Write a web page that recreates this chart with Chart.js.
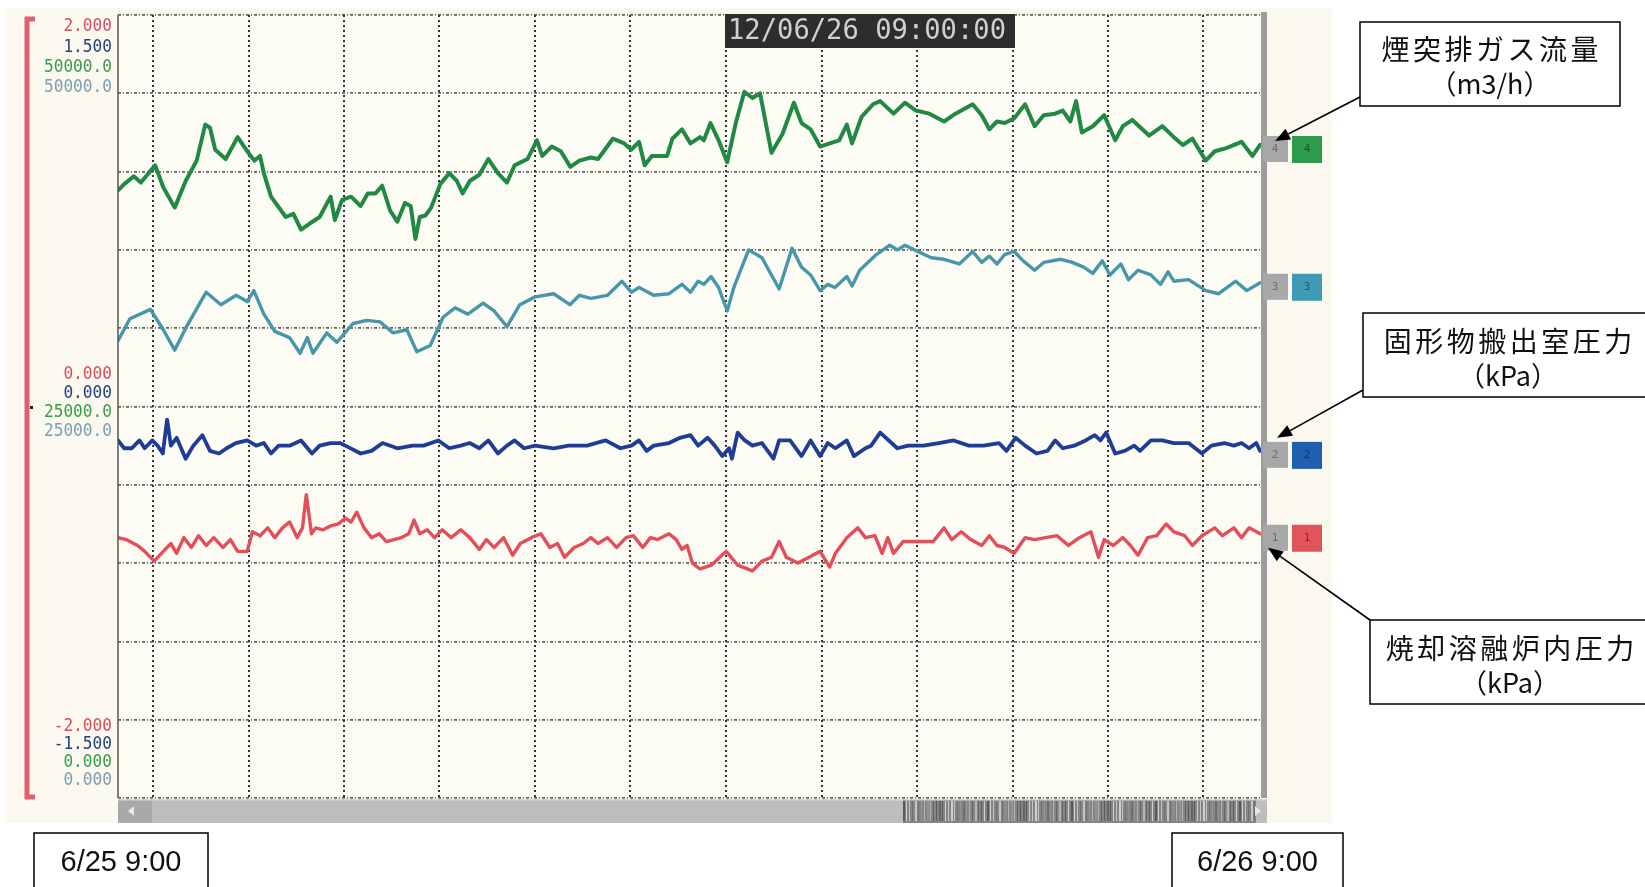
<!DOCTYPE html>
<html>
<head>
<meta charset="utf-8">
<script src="https://cdn.jsdelivr.net/npm/chart.js@4.4.1/dist/chart.umd.min.js"></script>
<style>
  html, body { margin: 0; padding: 0; background: #ffffff; }
  #wrap { width: 1645px; height: 887px; position: relative; overflow: hidden; }
  canvas { display: block; }
</style>
</head>
<body>
<div id="wrap"><canvas id="trend" width="1645" height="887"></canvas></div>
<script>
// Time axis: hours elapsed from 6/25 9:00 (0) to 6/26 9:00 (24)
const startLabel = '6/25 9:00';
const endLabel = '6/26 9:00';
const stampText = '12/06/26 09:00:00';
const gridHours = [0.73, 2.74, 4.74, 6.74, 8.75, 10.75, 12.76, 14.76, 16.76, 18.77, 20.77, 22.77];

// Scale labels per channel: [max, mid, min]
const redTicks = ['2.000', '0.000', '-2.000'];
const blueTicks = ['1.500', '0.000', '-1.500'];
const greenTicks = ['50000.0', '25000.0', '0.000'];
const tealTicks = ['50000.0', '25000.0', '0.000'];

// Callout captions
const greenCaption = ['煙突排ガス流量', '（m3/h）'];
const blueCaption = ['固形物搬出室圧力', '（kPa）'];
const redCaption = ['焼却溶融炉内圧力', '（kPa）'];

// Ch.4 煙突排ガス流量 (m3/h)
const greenHours = [0.00,0.13,0.33,0.48,0.64,0.78,0.95,1.19,1.42,1.65,1.83,1.93,2.04,2.26,2.51,2.71,2.86,2.98,3.06,3.21,3.52,3.68,3.84,4.03,4.23,4.46,4.55,4.70,4.89,5.09,5.24,5.40,5.54,5.71,5.86,6.02,6.14,6.24,6.33,6.45,6.57,6.76,6.95,7.11,7.23,7.38,7.58,7.77,7.97,8.16,8.32,8.59,8.79,8.90,9.10,9.29,9.49,9.68,9.92,10.07,10.19,10.38,10.62,10.77,10.93,11.05,11.20,11.52,11.63,11.83,12.01,12.21,12.29,12.43,12.60,12.78,12.96,13.14,13.31,13.47,13.71,13.94,14.18,14.34,14.53,14.73,14.93,15.13,15.29,15.40,15.60,15.84,15.99,16.27,16.51,16.74,17.02,17.33,17.57,17.93,18.12,18.28,18.44,18.60,18.80,19.03,19.23,19.42,19.66,19.82,19.98,20.10,20.22,20.45,20.69,20.92,21.08,21.28,21.63,21.91,22.15,22.34,22.54,22.82,23.01,23.25,23.57,23.80,23.96];
const greenValues = [38800,39200,39700,39300,39900,40400,39000,37700,39400,40700,43000,42800,41400,40800,42200,41300,40700,41000,39900,38400,37100,37300,36300,36700,37100,38400,36900,38200,38400,37800,38600,38600,39100,37500,36800,38000,37800,35700,37100,37200,37700,39200,39900,39400,38600,39400,39800,40800,39900,39300,40400,40800,42000,41000,41600,41300,40300,40700,40900,40800,41300,42100,41800,41400,41900,40400,41000,41000,42100,42700,41800,42200,42000,43100,42000,40600,43100,45100,44700,45000,41200,42400,44400,43100,42700,41600,41800,42000,43000,41800,43500,44300,44500,43700,44400,43900,43700,43200,43700,44300,43600,42700,43200,43100,43400,44300,42900,43600,43700,43900,43200,44500,42500,42900,43600,42000,42900,43300,42300,42900,42200,41700,42100,40700,41300,41500,41900,41000,41700];

// Ch.3 (m3/h)
const tealHours = [0.00,0.25,0.68,0.95,1.19,1.42,1.85,2.16,2.48,2.71,2.85,3.06,3.29,3.60,3.82,3.97,4.09,4.38,4.59,4.93,5.22,5.50,5.77,6.06,6.27,6.55,6.82,7.07,7.34,7.66,7.89,8.16,8.43,8.75,9.14,9.48,9.68,9.92,10.27,10.57,10.77,10.93,11.24,11.56,11.83,12.01,12.17,12.29,12.44,12.60,12.78,12.92,13.23,13.51,13.87,14.14,14.34,14.53,14.73,14.89,15.04,15.29,15.40,15.56,15.91,16.19,16.35,16.51,16.78,17.06,17.33,17.65,17.93,18.12,18.28,18.44,18.60,18.80,18.99,19.23,19.42,19.78,20.02,20.26,20.45,20.65,20.81,21.04,21.20,21.40,21.67,21.87,22.03,22.15,22.46,22.82,23.09,23.45,23.68,23.96];
const tealValues = [29200,30600,31200,29900,28600,30000,32300,31500,32100,31700,32400,30900,29800,29400,28400,29400,28400,29700,29100,30300,30500,30400,29700,29900,28500,28900,30700,31300,30900,31600,31100,30100,31500,32000,32200,31500,32100,31900,32100,33000,32300,32600,32100,32200,32800,32300,33000,32800,33300,32600,31100,32600,35000,34500,32500,35100,33900,33400,32400,32800,32600,33300,32700,33700,34700,35300,35000,35300,34900,34500,34400,34100,34900,34200,34600,34100,34700,34900,34300,33700,34200,34400,34200,33900,33500,34300,33400,34100,33100,33700,33400,32800,33600,33000,33100,32400,32200,33000,32400,32900];

// Ch.2 固形物搬出室圧力 (kPa)
const blueHours = [0.00,0.13,0.29,0.45,0.56,0.72,0.83,0.94,1.03,1.11,1.23,1.42,1.58,1.77,1.93,2.12,2.28,2.47,2.71,2.90,3.06,3.21,3.37,3.60,3.84,4.07,4.23,4.46,4.66,4.77,5.09,5.32,5.55,5.86,6.18,6.41,6.72,6.95,7.19,7.38,7.58,7.77,7.97,8.16,8.32,8.52,8.75,9.14,9.45,9.84,10.23,10.54,10.77,10.93,11.09,11.24,11.56,11.79,12.01,12.17,12.37,12.52,12.68,12.82,12.88,13.00,13.15,13.31,13.51,13.75,13.87,14.10,14.34,14.53,14.73,14.89,15.05,15.29,15.44,15.68,15.80,15.99,16.35,16.58,16.90,17.22,17.53,17.85,18.16,18.48,18.64,18.83,19.03,19.27,19.50,19.66,19.82,20.06,20.30,20.49,20.61,20.73,20.92,21.12,21.32,21.44,21.67,21.91,22.15,22.46,22.74,22.94,23.21,23.41,23.57,23.73,23.88,23.96];
const blueValues = [-0.13,-0.16,-0.16,-0.13,-0.16,-0.13,-0.15,-0.18,-0.05,-0.15,-0.12,-0.20,-0.15,-0.11,-0.17,-0.18,-0.16,-0.14,-0.13,-0.15,-0.14,-0.18,-0.15,-0.15,-0.13,-0.18,-0.15,-0.14,-0.14,-0.15,-0.18,-0.17,-0.14,-0.16,-0.15,-0.15,-0.13,-0.16,-0.15,-0.14,-0.16,-0.13,-0.18,-0.15,-0.13,-0.16,-0.15,-0.16,-0.15,-0.15,-0.13,-0.16,-0.15,-0.13,-0.17,-0.15,-0.14,-0.12,-0.11,-0.15,-0.12,-0.15,-0.19,-0.16,-0.20,-0.10,-0.13,-0.15,-0.14,-0.20,-0.13,-0.13,-0.19,-0.13,-0.19,-0.14,-0.16,-0.13,-0.19,-0.16,-0.15,-0.10,-0.16,-0.15,-0.15,-0.14,-0.13,-0.15,-0.15,-0.14,-0.17,-0.12,-0.15,-0.18,-0.17,-0.13,-0.16,-0.15,-0.13,-0.11,-0.13,-0.10,-0.18,-0.17,-0.15,-0.17,-0.13,-0.13,-0.14,-0.14,-0.18,-0.15,-0.14,-0.15,-0.14,-0.16,-0.14,-0.17];

// Ch.1 焼却溶融炉内圧力 (kPa)
const redHours = [0.00,0.17,0.41,0.56,0.76,0.95,1.11,1.23,1.38,1.54,1.69,1.85,2.01,2.20,2.36,2.51,2.71,2.82,2.98,3.14,3.29,3.45,3.60,3.76,3.87,3.95,4.06,4.15,4.30,4.46,4.62,4.77,4.89,5.01,5.16,5.32,5.48,5.63,5.79,5.94,6.10,6.21,6.33,6.49,6.64,6.80,6.99,7.19,7.38,7.58,7.73,7.89,8.09,8.28,8.44,8.67,8.87,9.06,9.22,9.37,9.57,9.76,9.92,10.07,10.27,10.46,10.66,10.81,11.01,11.17,11.32,11.56,11.71,11.83,11.94,12.05,12.21,12.45,12.76,13.00,13.31,13.51,13.71,13.87,14.02,14.26,14.50,14.73,14.93,15.05,15.29,15.52,15.68,15.88,16.03,16.15,16.27,16.47,16.74,17.10,17.33,17.49,17.69,17.89,18.12,18.28,18.44,18.60,18.80,19.03,19.23,19.46,19.70,19.94,20.17,20.41,20.57,20.69,20.88,21.08,21.24,21.40,21.60,21.79,21.99,22.15,22.38,22.54,22.74,23.01,23.17,23.41,23.57,23.73,23.96];
const redValues = [-0.67,-0.68,-0.71,-0.74,-0.79,-0.74,-0.70,-0.75,-0.67,-0.72,-0.66,-0.71,-0.67,-0.72,-0.68,-0.74,-0.74,-0.64,-0.66,-0.62,-0.67,-0.62,-0.59,-0.67,-0.62,-0.45,-0.65,-0.62,-0.63,-0.61,-0.60,-0.57,-0.59,-0.54,-0.62,-0.67,-0.65,-0.69,-0.68,-0.67,-0.65,-0.58,-0.65,-0.63,-0.67,-0.63,-0.67,-0.63,-0.67,-0.73,-0.68,-0.72,-0.67,-0.76,-0.70,-0.67,-0.65,-0.72,-0.70,-0.77,-0.72,-0.70,-0.67,-0.70,-0.67,-0.72,-0.67,-0.66,-0.72,-0.67,-0.68,-0.65,-0.68,-0.73,-0.71,-0.80,-0.83,-0.81,-0.74,-0.81,-0.84,-0.79,-0.77,-0.69,-0.77,-0.80,-0.77,-0.74,-0.82,-0.75,-0.67,-0.62,-0.67,-0.66,-0.75,-0.67,-0.75,-0.69,-0.69,-0.69,-0.62,-0.68,-0.64,-0.68,-0.71,-0.66,-0.71,-0.72,-0.75,-0.67,-0.68,-0.67,-0.66,-0.71,-0.67,-0.64,-0.77,-0.68,-0.71,-0.67,-0.71,-0.76,-0.67,-0.66,-0.60,-0.64,-0.66,-0.71,-0.66,-0.62,-0.66,-0.62,-0.67,-0.62,-0.65];

const pts = (hs, vs) => hs.map((h, i) => ({ x: h, y: vs[i] }));

const COLORS = {
  red: '#e24f5b', blue: '#1f3d95', green: '#218943', teal: '#4896a9',
  redText: '#d4505c', blueText: '#26407c', greenText: '#3a9a4c', tealText: '#7d9db2'
};

const channels = [
  { axis: 'yRed', ticks: redTicks, text: COLORS.redText, fill: '#e2545c', num: '1' },
  { axis: 'yBlue', ticks: blueTicks, text: COLORS.blueText, fill: '#1f5fb0', num: '2' },
  { axis: 'yGreen', ticks: greenTicks, text: COLORS.greenText, fill: '#2e9a4e', num: '4' },
  { axis: 'yTeal', ticks: tealTicks, text: COLORS.tealText, fill: '#3f9bb5', num: '3' }
];

function drawCallout(ctx, box, lines, tip, from) {
  ctx.save();
  ctx.fillStyle = '#ffffff';
  ctx.fillRect(box.x, box.y, box.w, box.h);
  ctx.strokeStyle = '#000000';
  ctx.lineWidth = 1.5;
  ctx.strokeRect(box.x, box.y, box.w, box.h);
  ctx.fillStyle = '#111111';
  ctx.font = '28px "Noto Sans CJK JP"';
  ctx.textBaseline = 'middle';
  const cx = box.cx;
  // first line: fixed advance per glyph
  const adv = 31.5;
  const chars = Array.from(lines[0]);
  const x0 = cx - (chars.length * adv) / 2;
  ctx.textAlign = 'center';
  chars.forEach((c, i) => ctx.fillText(c, x0 + adv * (i + 0.5), box.y + box.l1));
  ctx.font = '27px "Noto Sans CJK JP"';
  ctx.fillText(lines[1], cx, box.y + box.l2);
  // arrow
  ctx.strokeStyle = '#000000';
  ctx.lineWidth = 1.6;
  const ang = Math.atan2(tip.y - from.y, tip.x - from.x);
  const head = 15, half = 6;
  const bx = tip.x - head * Math.cos(ang), by = tip.y - head * Math.sin(ang);
  ctx.beginPath(); ctx.moveTo(from.x, from.y); ctx.lineTo(bx, by); ctx.stroke();
  ctx.beginPath();
  ctx.moveTo(tip.x, tip.y);
  ctx.lineTo(bx + half * Math.sin(ang), by - half * Math.cos(ang));
  ctx.lineTo(bx - half * Math.sin(ang), by + half * Math.cos(ang));
  ctx.closePath(); ctx.fillStyle = '#000000'; ctx.fill();
  ctx.restore();
}

function dateBox(ctx, x, y, w, h, text) {
  ctx.save();
  ctx.fillStyle = '#ffffff'; ctx.fillRect(x, y, w, h);
  ctx.strokeStyle = '#000000'; ctx.lineWidth = 1.5; ctx.strokeRect(x, y, w, h);
  ctx.fillStyle = '#111111';
  ctx.font = '29px "Liberation Sans", Arial, sans-serif';
  ctx.textAlign = 'center'; ctx.textBaseline = 'middle';
  ctx.fillText(text, x + w / 2, y + 30);
  ctx.restore();
}

const recorderFrame = {
  id: 'recorderFrame',
  beforeDraw(chart) {
    const { ctx, chartArea: a } = chart;
    ctx.save();
    ctx.fillStyle = '#ffffff';
    ctx.fillRect(0, 0, chart.width, chart.height);
    // recorder screen
    ctx.fillStyle = '#fbf9ef';
    ctx.fillRect(6, 8, 1326, 815);
    ctx.fillStyle = '#fdfcf4';
    ctx.fillRect(a.left, a.top, a.right - a.left, a.bottom - a.top);
    ctx.restore();
  },
  afterDraw(chart) {
    const { ctx, chartArea: a, scales } = chart;
    ctx.save();
    // plot border: left solid edge, right grey bar
    ctx.strokeStyle = '#555555'; ctx.lineWidth = 1.5;
    ctx.beginPath(); ctx.moveTo(a.left, a.top); ctx.lineTo(a.left, a.bottom); ctx.stroke();
    ctx.fillStyle = '#9c9c9c';
    ctx.fillRect(a.right - 1, a.top - 3, 6, a.bottom - a.top + 3);

    // scroll bar under the plot
    const sy = a.bottom + 1, sh = 24;
    ctx.fillStyle = '#bdbdbd'; ctx.fillRect(a.left, sy, a.right - a.left + 5, sh);
    ctx.fillStyle = '#a9a9a9'; ctx.fillRect(a.left, sy, 34, sh);
    ctx.fillStyle = '#e8e8e8';
    ctx.beginPath(); ctx.moveTo(a.left + 10, sy + 12); ctx.lineTo(a.left + 16, sy + 7); ctx.lineTo(a.left + 16, sy + 17); ctx.closePath(); ctx.fill();
    const thumbL = 903, thumbR = a.right - 6;
    ctx.fillStyle = '#858585'; ctx.fillRect(thumbL, sy, thumbR - thumbL, sh);
    const shades = ['#5a5a5a', '#b4b4b4', '#707070', '#d0d0d0', '#646464', '#949494', '#c4c4c4'];
    for (let x = thumbL, k = 0; x < thumbR; x += 3, k++) {
      ctx.fillStyle = shades[(k * 3 + (k >> 2)) % shades.length];
      ctx.fillRect(x, sy + 2, (k % 4 === 0) ? 2 : 1, sh - 4);
    }
    ctx.fillStyle = '#e8e8e8';
    ctx.beginPath(); ctx.moveTo(a.right - 1, sy + 12); ctx.lineTo(a.right - 7, sy + 7); ctx.lineTo(a.right - 7, sy + 17); ctx.closePath(); ctx.fill();
    ctx.fillStyle = '#d8d8d8'; ctx.fillRect(a.left, sy, a.right - a.left + 5, 1.5);

    // red range bracket
    ctx.strokeStyle = '#e2606c'; ctx.lineWidth = 5;
    ctx.beginPath();
    ctx.moveTo(35, a.top + 4); ctx.lineTo(27, a.top + 4); ctx.lineTo(27, a.bottom - 1); ctx.lineTo(35, a.bottom - 1);
    ctx.stroke();
    ctx.fillStyle = '#222'; ctx.fillRect(30, 406, 3, 3);

    // channel scale labels (max / mid / min) on the left
    ctx.font = '17px "DejaVu Sans Mono", monospace';
    ctx.textAlign = 'right'; ctx.textBaseline = 'middle';
    channels.forEach((c, i) => {
      const s = scales[c.axis];
      const yTop = s.getPixelForValue(s.max), yMid = s.getPixelForValue((s.max + s.min) / 2), yBot = s.getPixelForValue(s.min);
      ctx.fillStyle = c.text;
      ctx.save(); ctx.translate(112, 0); ctx.scale(0.95, 1);
      ctx.fillText(c.ticks[0], 0, yTop + 12 + 20.3 * i);
      ctx.fillText(c.ticks[1], 0, yMid - 31.5 + 19 * i);
      ctx.fillText(c.ticks[2], 0, yBot - 71 + 17.7 * i);
      ctx.restore();
    });

    // channel end markers at the right edge
    const ends = {};
    chart.data.datasets.forEach((ds, i) => {
      const c = channels[i];
      const s = scales[c.axis];
      const yEnd = s.getPixelForValue(ds.data[ds.data.length - 1].y);
      ends[c.axis] = yEnd;
      const my = yEnd + 4;
      ctx.fillStyle = '#a8a8a8'; ctx.fillRect(a.right + 1, my - 13, 25, 26);
      ctx.fillStyle = c.fill; ctx.fillRect(a.right + 30, my - 13, 30, 27);
      ctx.font = '11px "DejaVu Sans Mono", monospace'; ctx.textAlign = 'center';
      ctx.fillStyle = '#6d6d6d'; ctx.fillText(c.num, a.right + 13, my);
      ctx.fillStyle = 'rgba(0,0,0,0.45)'; ctx.fillText(c.num, a.right + 45, my);
    });

    // time stamp banner
    ctx.fillStyle = '#2d2d2d'; ctx.fillRect(725, 14, 290, 34);
    ctx.fillStyle = '#d0d0d0';
    ctx.font = '28px "DejaVu Sans Mono", monospace';
    ctx.textAlign = 'left'; ctx.textBaseline = 'middle';
    ctx.save(); ctx.translate(728, 32); ctx.scale(0.97, 1); ctx.fillText(stampText, 0, 0); ctx.restore();

    ctx.restore();

    // callouts
    drawCallout(ctx, { x: 1360, y: 22, w: 260, h: 84, cx: 1490, l1: 27, l2: 62 }, greenCaption,
      { x: 1275, y: ends.yGreen - 4 }, { x: 1360, y: 97 });
    drawCallout(ctx, { x: 1363, y: 313, w: 300, h: 84, cx: 1508, l1: 28, l2: 63 }, blueCaption,
      { x: 1277, y: ends.yBlue - 13 }, { x: 1363, y: 390 });
    drawCallout(ctx, { x: 1370, y: 620, w: 300, h: 84, cx: 1510, l1: 28, l2: 63 }, redCaption,
      { x: 1268, y: ends.yRed + 14 }, { x: 1370, y: 620 });

    // date boxes under the time axis
    dateBox(ctx, 34, 833, 174, 60, startLabel);
    dateBox(ctx, 1172, 833, 171, 60, endLabel);
  }
};

const lineDs = (label, data, color, axis, width) => ({
  label, data, borderColor: color, backgroundColor: color, yAxisID: axis,
  borderWidth: width, pointRadius: 0, tension: 0, fill: false,
  borderJoinStyle: 'round', borderCapStyle: 'round'
});

new Chart(document.getElementById('trend'), {
  type: 'line',
  data: {
    datasets: [
      lineDs('焼却溶融炉内圧力', pts(redHours, redValues), COLORS.red, 'yRed', 3.4),
      lineDs('固形物搬出室圧力', pts(blueHours, blueValues), COLORS.blue, 'yBlue', 3.8),
      lineDs('煙突排ガス流量', pts(greenHours, greenValues), COLORS.green, 'yGreen', 4),
      lineDs('Ch.3', pts(tealHours, tealValues), COLORS.teal, 'yTeal', 3.4)
    ]
  },
  options: {
    responsive: false,
    animation: false,
    devicePixelRatio: 1,
    layout: { padding: { left: 118, top: 15, right: 383, bottom: 89 } },
    plugins: { legend: { display: false }, tooltip: { enabled: false } },
    scales: {
      x: {
        type: 'linear', min: 0, max: 24,
        afterBuildTicks: (s) => { s.ticks = gridHours.map(v => ({ value: v })); },
        ticks: { display: false },
        grid: { color: 'rgba(30,30,30,0.9)', lineWidth: 2, drawTicks: false },
        border: { display: false, dash: [2, 3] }
      },
      yRed: {
        position: 'left', min: -2, max: 2,
        ticks: { display: false, stepSize: 0.4 },
        grid: { color: 'rgba(60,60,60,0.8)', lineWidth: 1.7, drawTicks: false },
        border: { display: false, dash: [3, 2, 1, 2] }
      },
      yBlue: { display: false, min: -1.5, max: 1.5 },
      yGreen: { display: false, min: 0, max: 50000 },
      yTeal: { display: false, min: 0, max: 50000 }
    }
  },
  plugins: [recorderFrame]
});
</script>
</body>
</html>
